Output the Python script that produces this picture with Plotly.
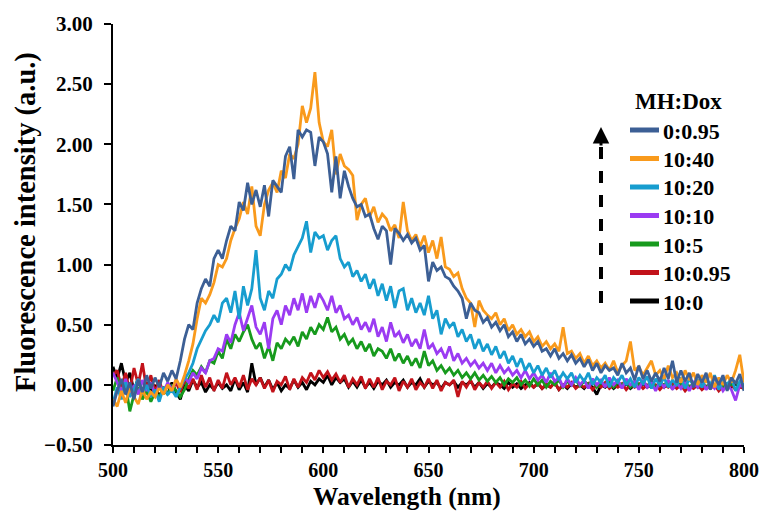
import plotly.graph_objects as go

# Emission spectra, sampled every 2 nm from 500 to 800 nm
wavelength = list(range(500, 801, 2))

mh_0_095 = [
    -0.18, -0.05, 0.05, -0.08, 0.02, -0.12, 0.04, -0.06, 0.08, -0.03,
    0.06, -0.02, 0.10, 0.03, 0.12, 0.05, 0.20, 0.38, 0.50, 0.46,
    0.68, 0.80, 0.88, 0.82, 1.05, 1.12, 1.05, 1.20, 1.32, 1.28,
    1.52, 1.45, 1.68, 1.50, 1.62, 1.48, 1.66, 1.40, 1.70, 1.65,
    1.60, 1.90, 1.98, 1.71, 2.12, 2.06, 2.12, 2.10, 1.82, 2.06,
    2.02, 1.92, 1.60, 1.90, 1.55, 1.78, 1.65, 1.55, 1.48, 1.50,
    1.40, 1.42, 1.30, 1.21, 1.32, 1.28, 1.00, 1.30, 1.26, 1.20,
    1.25, 1.18, 1.22, 1.12, 1.16, 0.86, 1.02, 0.95, 0.98, 0.90,
    0.88, 0.82, 0.78, 0.72, 0.55, 0.68, 0.62, 0.60, 0.52, 0.56,
    0.48, 0.52, 0.45, 0.50, 0.40, 0.44, 0.36, 0.42, 0.34, 0.38,
    0.32, 0.36, 0.28, 0.30, 0.24, 0.30, 0.22, 0.26, 0.20, 0.25,
    0.18, 0.22, 0.15, 0.21, 0.12, 0.18, 0.10, 0.16, 0.12, 0.14,
    0.08, 0.18, 0.10, 0.14, 0.04, 0.16, 0.05, 0.12, 0.03, 0.10,
    0.03, 0.14, 0.05, 0.20, 0.02, 0.12, 0.03, 0.10, -0.02, 0.09,
    0.02, 0.10, -0.04, 0.07, 0.00, 0.08, -0.05, 0.06, 0.01, 0.09,
    -0.05,
]

mh_10_40 = [
    -0.12, -0.18, -0.05, -0.15, -0.02, -0.10, -0.16, -0.04, -0.12, -0.06,
    -0.10, -0.02, -0.08, 0.00, -0.05, 0.05, -0.02, 0.08, 0.20, 0.34,
    0.55, 0.72, 0.68, 0.75, 0.85, 1.00, 0.98, 1.05, 1.20, 1.30,
    1.38, 1.52, 1.42, 1.65, 1.32, 1.24, 1.50, 1.62, 1.68, 1.60,
    1.78, 1.72, 1.92, 1.88, 2.00, 2.32, 2.18, 2.30, 2.60, 2.18,
    2.02, 1.98, 2.12, 1.75, 1.92, 1.82, 1.79, 1.74, 1.37, 1.50,
    1.55, 1.40, 1.48, 1.35, 1.42, 1.38, 1.28, 1.33, 1.22, 1.52,
    1.28, 1.20, 1.25, 1.15, 1.24, 1.10, 1.20, 1.05, 1.23, 0.98,
    0.96, 0.90, 0.93, 0.80, 0.72, 0.68, 0.48, 0.70, 0.62, 0.58,
    0.55, 0.60, 0.50, 0.55, 0.45, 0.50, 0.42, 0.46, 0.40, 0.44,
    0.36, 0.40, 0.32, 0.36, 0.30, 0.34, 0.28, 0.48, 0.26, 0.28,
    0.22, 0.26, 0.18, 0.24, 0.16, 0.20, 0.14, 0.18, 0.12, 0.20,
    0.10, 0.16, 0.20, 0.36, 0.12, 0.15, 0.08, 0.14, 0.20, 0.08,
    0.12, 0.05, 0.16, 0.06, 0.10, 0.02, 0.12, 0.04, 0.10, 0.00,
    0.08, 0.02, 0.10, -0.02, 0.06, 0.00, 0.08, 0.02, 0.12, 0.25,
    0.02,
]

mh_10_20 = [
    -0.15, -0.02, -0.12, 0.02, -0.10, -0.04, 0.05, -0.08, 0.00, -0.10,
    -0.04, -0.14, -0.02, -0.08, -0.04, -0.10, -0.02, 0.05, 0.10, 0.18,
    0.30, 0.38, 0.45, 0.50, 0.58, 0.52, 0.68, 0.72, 0.60, 0.78,
    0.55, 0.82, 0.66, 0.80, 1.12, 0.72, 0.62, 0.78, 0.72, 0.88,
    0.92, 1.00, 0.95, 1.08, 1.15, 1.22, 1.36, 1.10, 1.27, 1.22,
    1.24, 1.12, 1.20, 1.24, 1.05, 0.98, 1.02, 0.90, 0.95, 0.86,
    0.92, 0.80, 0.88, 0.74, 0.84, 0.70, 0.82, 0.64, 0.78, 0.80,
    0.62, 0.72, 0.60, 0.68, 0.58, 0.74, 0.55, 0.62, 0.42, 0.55,
    0.48, 0.52, 0.40, 0.46, 0.36, 0.42, 0.30, 0.38, 0.28, 0.34,
    0.25, 0.32, 0.22, 0.28, 0.18, 0.24, 0.15, 0.22, 0.12, 0.18,
    0.10, 0.16, 0.08, 0.14, 0.06, 0.12, 0.04, 0.10, 0.05, 0.10,
    0.02, 0.08, 0.03, 0.10, 0.00, 0.06, 0.02, 0.08, -0.02, 0.06,
    0.02, 0.08, 0.00, 0.05, -0.02, 0.06, 0.01, 0.07, -0.03, 0.05,
    0.00, 0.06, -0.02, 0.04, 0.00, 0.06, -0.03, 0.05, 0.00, 0.04,
    -0.02, 0.05, 0.00, 0.08, -0.04, 0.04, 0.00, 0.06, -0.05, 0.03,
    0.00,
]

mh_10_10 = [
    0.10, 0.02, -0.06, 0.05, -0.10, 0.00, -0.08, 0.04, -0.05, 0.02,
    -0.08, 0.00, -0.06, 0.02, -0.04, 0.04, -0.02, 0.06, 0.02, 0.10,
    0.05, 0.14, 0.10, 0.20, 0.22, 0.30, 0.28, 0.42, 0.35, 0.50,
    0.60, 0.45, 0.55, 0.66, 0.48, 0.42, 0.52, 0.30, 0.55, 0.62,
    0.50, 0.66, 0.58, 0.72, 0.62, 0.76, 0.60, 0.74, 0.64, 0.76,
    0.70, 0.62, 0.74, 0.60, 0.66, 0.55, 0.58, 0.50, 0.56, 0.46,
    0.52, 0.44, 0.55, 0.40, 0.48, 0.36, 0.52, 0.40, 0.44, 0.35,
    0.42, 0.32, 0.38, 0.30, 0.46, 0.30, 0.34, 0.26, 0.30, 0.22,
    0.32, 0.20, 0.26, 0.18, 0.22, 0.16, 0.20, 0.14, 0.18, 0.12,
    0.18, 0.10, 0.16, 0.10, 0.14, 0.08, 0.12, 0.06, 0.12, 0.05,
    0.10, 0.04, 0.08, 0.02, 0.10, 0.03, 0.06, -0.02, 0.05, 0.00,
    0.06, 0.00, 0.04, -0.03, 0.05, 0.00, 0.04, -0.02, 0.06, 0.00,
    0.04, -0.03, 0.05, 0.00, 0.03, -0.04, 0.04, -0.02, 0.02, -0.05,
    0.03, -0.02, 0.04, -0.04, 0.02, -0.03, 0.03, -0.05, 0.02, -0.02,
    0.04, -0.04, 0.01, -0.03, 0.02, -0.05, 0.00, -0.04, -0.13, 0.00,
    -0.02,
]

mh_10_5 = [
    -0.05, 0.06, -0.10, 0.00, -0.22, -0.08, -0.02, -0.12, -0.05, -0.14,
    -0.06, -0.10, -0.03, -0.08, 0.00, -0.05, -0.10, -0.04, 0.05, 0.12,
    0.08, 0.15, 0.10, 0.20, 0.18, 0.28, 0.22, 0.38, 0.30, 0.42,
    0.36, 0.44, 0.50, 0.38, 0.30, 0.35, 0.22, 0.32, 0.20, 0.35,
    0.30, 0.38, 0.34, 0.40, 0.32, 0.44, 0.38, 0.48, 0.42, 0.50,
    0.46, 0.56, 0.44, 0.48, 0.38, 0.42, 0.34, 0.38, 0.30, 0.36,
    0.28, 0.34, 0.24, 0.30, 0.28, 0.22, 0.30, 0.20, 0.26, 0.18,
    0.24, 0.16, 0.22, 0.14, 0.28, 0.16, 0.20, 0.12, 0.16, 0.10,
    0.14, 0.08, 0.12, 0.06, 0.10, 0.05, 0.10, 0.04, 0.08, 0.03,
    0.07, 0.02, 0.06, 0.00, 0.05, 0.02, 0.06, 0.00, 0.04, -0.01,
    0.05, 0.00, 0.04, -0.02, 0.03, 0.00, 0.04, -0.02, 0.03, 0.00,
    0.04, -0.01, 0.03, 0.00, 0.04, -0.02, 0.02, 0.00, 0.03, -0.02,
    0.02, 0.00, 0.03, -0.02, 0.02, 0.00, 0.03, -0.01, 0.02, -0.02,
    0.02, 0.00, 0.03, -0.02, 0.01, 0.00, 0.02, -0.02, 0.01, 0.00,
    0.02, -0.02, 0.01, 0.00, 0.02, -0.02, 0.01, 0.00, 0.02, -0.01,
    0.00,
]

mh_10_095 = [
    0.08, 0.12, -0.02, 0.10, -0.05, 0.14, 0.00, 0.18, -0.04, 0.08,
    -0.06, 0.04, -0.08, 0.00, -0.05, 0.02, -0.06, 0.04, -0.03, 0.05,
    -0.04, 0.08, -0.02, 0.06, -0.05, 0.04, -0.03, 0.10, 0.00, 0.06,
    -0.02, 0.08, -0.04, 0.05, 0.00, 0.06, -0.03, 0.04, -0.06, 0.03,
    0.00, 0.07, -0.04, 0.05, -0.02, 0.06, 0.02, 0.10, 0.04, 0.12,
    0.06, 0.11, 0.04, 0.09, 0.02, 0.08, -0.02, 0.05, 0.00, 0.07,
    -0.03, 0.05, -0.02, 0.06, -0.04, 0.03, 0.00, 0.06, -0.05, 0.03,
    -0.02, 0.05, -0.04, 0.02, -0.02, 0.05, -0.03, 0.04, -0.05, 0.02,
    0.00, 0.04, -0.10, 0.03, -0.02, 0.04, -0.04, 0.02, -0.02, 0.03,
    -0.03, 0.02, -0.02, 0.03, -0.04, 0.01, -0.02, 0.03, -0.03, 0.01,
    -0.02, 0.02, -0.03, 0.01, -0.02, 0.02, -0.04, 0.00, -0.02, 0.02,
    -0.03, 0.00, -0.02, 0.01, -0.04, 0.00, -0.02, 0.02, -0.03, 0.00,
    -0.02, 0.01, -0.04, 0.00, -0.02, 0.01, -0.03, 0.00, -0.02, 0.00,
    -0.04, 0.00, -0.02, 0.01, -0.03, 0.00, -0.05, -0.01, -0.03, 0.00,
    -0.04, -0.01, -0.03, 0.00, -0.05, -0.01, -0.03, 0.00, -0.04, -0.02,
    -0.03,
]

mh_10_0 = [
    0.15, 0.05, 0.18, 0.02, 0.10, -0.05, 0.06, -0.08, 0.02, -0.06,
    0.00, -0.10, -0.02, -0.08, 0.02, -0.06, -0.12, 0.00, -0.05, 0.04,
    -0.02, 0.02, -0.06, 0.00, -0.04, 0.02, -0.03, 0.00, -0.05, 0.05,
    -0.04, 0.02, -0.06, 0.18, 0.00, 0.06, -0.02, 0.04, -0.04, 0.02,
    -0.05, 0.00, -0.03, 0.04, -0.02, 0.02, -0.04, 0.03, 0.00, 0.05,
    0.02, 0.08, 0.00, 0.06, 0.02, 0.05, -0.02, 0.03, -0.02, 0.04,
    -0.02, 0.02, -0.03, 0.03, 0.00, 0.04, -0.02, 0.02, 0.00, 0.04,
    -0.02, 0.02, 0.00, 0.05, -0.02, 0.03, 0.00, 0.02, -0.03, 0.02,
    0.00, 0.03, -0.02, 0.02, 0.00, 0.03, -0.02, 0.02, -0.03, 0.01,
    -0.02, 0.02, 0.00, -0.03, 0.02, -0.02, 0.01, -0.03, 0.00, 0.02,
    -0.02, 0.01, -0.03, 0.00, -0.02, 0.02, -0.04, 0.00, -0.03, 0.01,
    -0.02, 0.00, -0.03, 0.01, -0.02, -0.08, 0.00, -0.02, 0.01, -0.03,
    0.00, -0.02, 0.01, -0.03, 0.00, -0.02, 0.01, -0.02, 0.00, -0.03,
    0.00, -0.02, 0.01, -0.03, 0.00, -0.02, 0.00, -0.03, 0.01, -0.02,
    0.00, -0.03, 0.00, -0.02, 0.01, -0.03, 0.00, -0.02, 0.01, -0.02,
    0.00,
]

ratios = ["0:0.95", "10:40", "10:20", "10:10", "10:5", "10:0.95", "10:0"]
colors = ["#3C5F95", "#F99A1C", "#179DCF", "#9B3BF2", "#179A1D", "#C2121A", "#000000"]
spectra = [mh_0_095, mh_10_40, mh_10_20, mh_10_10, mh_10_5, mh_10_095, mh_10_0]

for s in spectra:
    assert len(s) == len(wavelength), len(s)

FONT = "Liberation Serif"

# plot area in pixels
L, R, T, B = 113, 744, 24, 445
W, H = 760, 513

def px(x):
    return (x - L) / (R - L)

def py(y):
    return (B - y) / (B - T)

fig = go.Figure()

# draw the lowest-intensity spectra first so the strong ones sit on top
for name, col, ys in reversed(list(zip(ratios, colors, spectra))):
    fig.add_trace(go.Scatter(
        x=wavelength, y=ys, name=name, mode="lines",
        line=dict(color=col, width=2.8), showlegend=False,
    ))

shapes = []
annotations = []

# axis titles
annotations.append(dict(
    x=px(407), y=py(496), xref="paper", yref="paper",
    text="<b>Wavelength (nm)</b>", showarrow=False,
    xanchor="center", yanchor="middle",
    font=dict(family=FONT, size=25.5, color="black"),
))
annotations.append(dict(
    x=px(26), y=py(222), xref="paper", yref="paper",
    text="<b>Fluorescence intensity (a.u.)</b>", showarrow=False,
    textangle=-90, xanchor="center", yanchor="middle",
    font=dict(family=FONT, size=28.5, color="black"),
))

# legend block
annotations.append(dict(
    x=px(678), y=py(101), xref="paper", yref="paper", text="<b>MH:Dox</b>",
    showarrow=False, xanchor="center", yanchor="middle",
    font=dict(family=FONT, size=23, color="black"),
))
row_y = [130, 158.5, 187, 215.5, 244, 272.5, 301]
for name, col, yy in zip(ratios, colors, row_y):
    shapes.append(dict(
        type="line", xref="paper", yref="paper",
        x0=px(630), x1=px(659), y0=py(yy), y1=py(yy),
        line=dict(color=col, width=5),
    ))
    annotations.append(dict(
        x=px(661), y=py(yy + 1), xref="paper", yref="paper", text=f"<b>{name}</b>",
        showarrow=False, xanchor="left", yanchor="middle",
        font=dict(family=FONT, size=22, color="black"),
    ))

# dashed upward arrow beside the legend
shapes.append(dict(
    type="line", xref="paper", yref="paper",
    x0=px(601), x1=px(601), y0=py(303), y1=py(144),
    line=dict(color="black", width=4, dash="dash"),
))
annotations.append(dict(
    x=px(601), y=py(127), xref="paper", yref="paper", text="",
    showarrow=True, ax=0, ay=20, arrowhead=2, arrowsize=1.1,
    arrowwidth=3, arrowcolor="black",
))

tick_font = dict(family=FONT, size=21, color="black", weight="bold")
xtick_font = dict(family=FONT, size=20, color="black", weight="bold")

fig.update_layout(
    width=W, height=H,
    margin=dict(l=L, r=W - R, t=T, b=H - B, autoexpand=False),
    paper_bgcolor="white", plot_bgcolor="white",
    shapes=shapes, annotations=annotations,
    xaxis=dict(
        range=[500, 800], dtick=50, tick0=500, automargin=False,
        showline=True, linecolor="black", linewidth=2,
        ticks="outside", ticklen=6, tickwidth=2, tickcolor="black",
        minor=dict(dtick=10, ticks="outside", ticklen=6, tickwidth=2, tickcolor="black"),
        showgrid=False, zeroline=False, tickfont=xtick_font,
    ),
    yaxis=dict(
        range=[-0.5, 3.0], dtick=0.5, tick0=0, tickformat=".2f", automargin=False,
        showline=True, linecolor="black", linewidth=2,
        ticks="outside", ticklen=7, tickwidth=2, tickcolor="black",
        ticklabelstandoff=7,
        showgrid=False, zeroline=False, tickfont=tick_font,
    ),
)

fig.write_html("out.html")
